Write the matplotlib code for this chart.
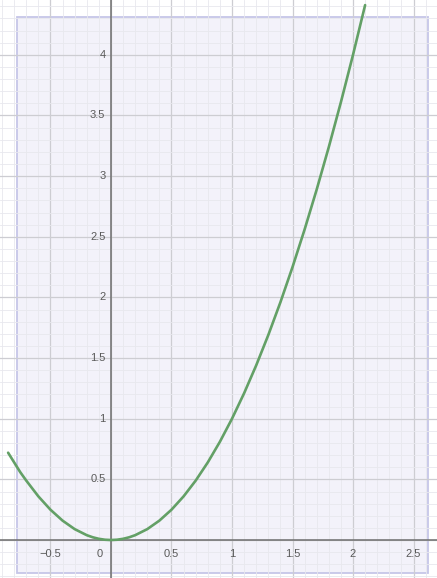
import matplotlib
matplotlib.use("Agg")
import matplotlib.pyplot as plt
from matplotlib.patches import Rectangle
import numpy as np

# values
curve_x = [-0.85, -0.8, -0.75, -0.7, -0.6, -0.5, -0.4, -0.3, -0.2, -0.15, -0.1, -0.05, 0.0,
           0.05, 0.1, 0.15, 0.2, 0.3, 0.4, 0.5, 0.6, 0.7, 0.8, 0.9, 1.0,
           1.1, 1.2, 1.3, 1.4, 1.5, 1.6, 1.7, 1.8, 1.9, 2.0, 2.1]
curve_y = [0.72, 0.64, 0.56, 0.49, 0.36, 0.25, 0.16, 0.09, 0.04, 0.0225, 0.01, 0.0025, 0.0,
           0.0025, 0.01, 0.0225, 0.04, 0.09, 0.16, 0.25, 0.36, 0.49, 0.64, 0.81, 1.0,
           1.21, 1.44, 1.69, 1.96, 2.25, 2.56, 2.89, 3.24, 3.61, 4.0, 4.41]

x_ticks = [-0.5, 0.5, 1, 1.5, 2, 2.5]
x_tick_labels = ["\u22120.5", "0.5", "1", "1.5", "2", "2.5"]
y_ticks = [0.5, 1, 1.5, 2, 2.5, 3, 3.5, 4]
y_tick_labels = ["0.5", "1", "1.5", "2", "2.5", "3", "3.5", "4"]

# shaded box (window) in data units
box_x0, box_x1 = -0.777, 2.62
box_y0, box_y1 = -0.27, 4.31

plt.rcParams['font.family'] = ['Liberation Sans', 'DejaVu Sans']

fig = plt.figure(figsize=(4.37, 5.78), dpi=100)
ax = fig.add_axes([0, 0, 1, 1])
ax.set_xlim(-0.917, 2.694)
ax.set_ylim(-0.313, 4.452)
for s in ax.spines.values():
    s.set_visible(False)

ax.set_xticks(np.arange(-0.5, 2.6, 0.5))
ax.set_yticks(np.arange(-0.0, 4.5, 0.5))
ax.set_xticks(np.arange(-0.9, 2.7, 0.1), minor=True)
ax.set_yticks(np.arange(-0.3, 4.5, 0.1), minor=True)
ax.tick_params(which="both", length=0, labelbottom=False, labelleft=False)
ax.set_axisbelow(True)
ax.grid(which="major", color="#cdcdd2", lw=0.9)
ax.grid(which="minor", color="#e8e8ee", lw=0.6)

ax.add_patch(Rectangle((box_x0, box_y0), box_x1 - box_x0, box_y1 - box_y0,
                       facecolor="#f3f2fa", edgecolor="#c6c6e8", lw=1.3, zorder=0.2))

ax.axhline(0, color="#6e6e6e", lw=1.1, zorder=2)
ax.axvline(0, color="#6e6e6e", lw=1.1, zorder=2)

ax.plot(curve_x, curve_y, color="#63a066", lw=1.9, zorder=3,
        solid_capstyle="round", solid_joinstyle="round")

for v, t in zip(x_ticks, x_tick_labels):
    ax.annotate(t, (v, 0), xytext=(0, -10), textcoords="offset points",
                ha="center", va="center", fontsize=8, color="#5a5a5a")
ax.annotate("0", (0, 0), xytext=(-8, -10), textcoords="offset points",
            ha="center", va="center", fontsize=8, color="#5a5a5a")
for v, t in zip(y_ticks, y_tick_labels):
    ax.annotate(t, (0, v), xytext=(-4, 0), textcoords="offset points",
                ha="right", va="center", fontsize=8, color="#5a5a5a")

fig.savefig("out.png", dpi=100)
